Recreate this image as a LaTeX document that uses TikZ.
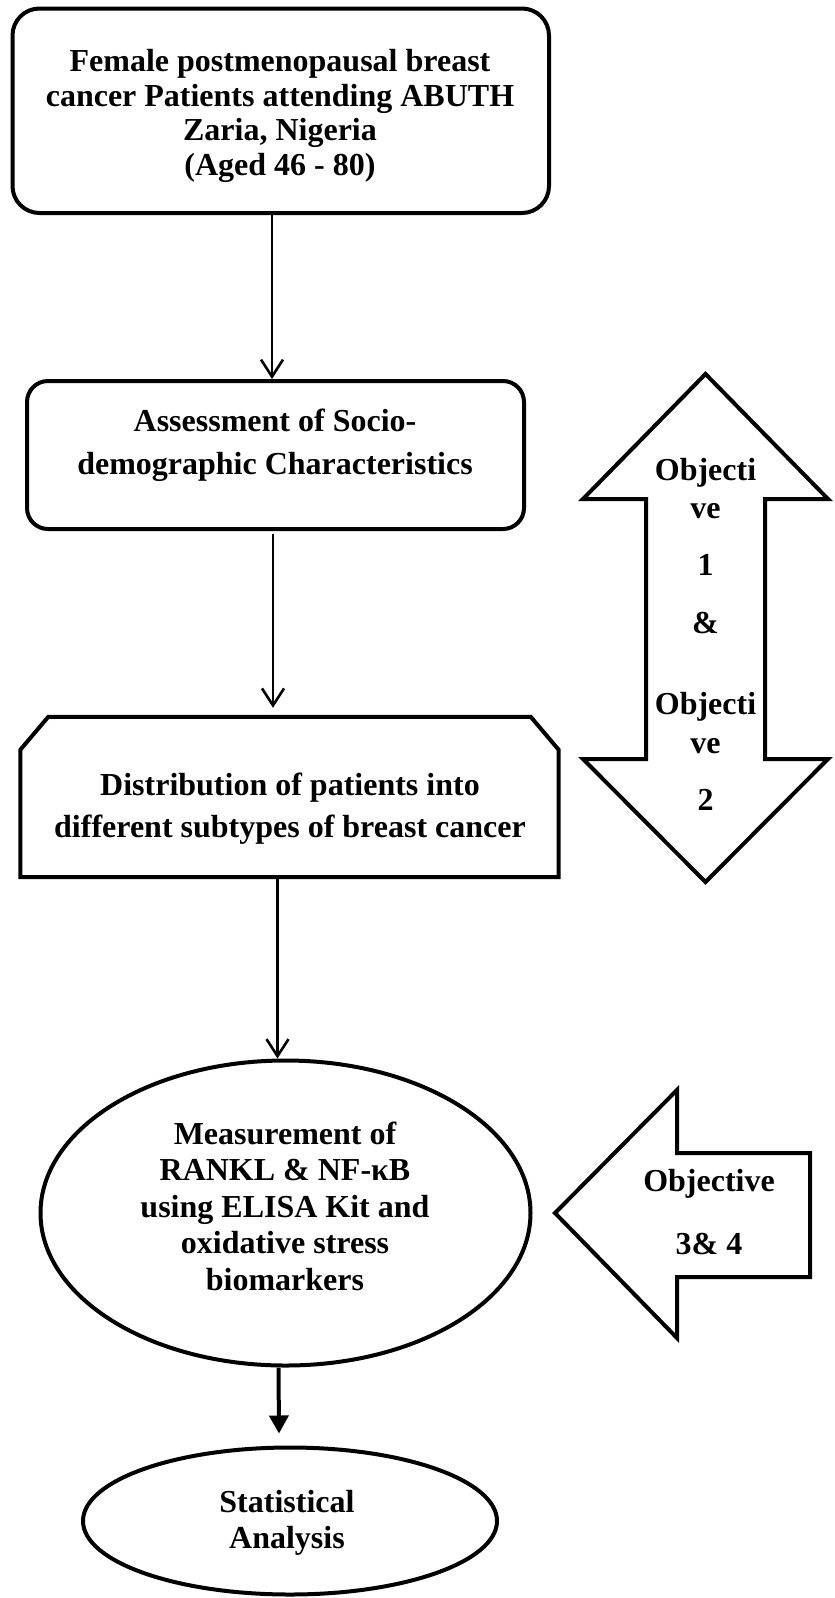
\documentclass[tikz,border=0pt]{standalone}
\usepackage{fontspec}
\setmainfont{Liberation Serif}
\usetikzlibrary{arrows.meta,shapes.geometric}
\begin{document}
\begin{tikzpicture}[x=1pt,y=-1pt,
  boxline/.style={draw, line width=4pt, inner sep=0pt},
  txt/.style={font=\bfseries\fontsize{32}{37}\selectfont, align=center, inner sep=0pt},
  thinarr/.style={line width=2.6pt, -{Straight Barb[length=17pt,width=22pt,line width=2.6pt]}},
  thickarr/.style={line width=4pt, -{Triangle[length=18pt,width=19pt]}},
  bigarrow/.style={draw, line width=4pt, miter limit=20}
]
\useasboundingbox (0,0) rectangle (835,1598);

% shapes
\node[boxline, rounded corners=27pt, minimum width=536.5pt, minimum height=204.5pt] (b1) at (280.75,110.75) {};
\node[boxline, rounded corners=21pt, minimum width=497pt, minimum height=148pt] (b2) at (275.5,455) {};
\node[inner sep=0pt, minimum width=538pt, minimum height=160pt] (b3) at (289.5,797) {};
\draw[line width=4pt] ([xshift=28pt]b3.north west) -- ([xshift=-28pt]b3.north east)
  -- ([yshift=-33pt]b3.north east) -- (b3.south east) -- (b3.south west)
  -- ([yshift=-33pt]b3.north west) -- cycle;
\node[boxline, ellipse, minimum width=490pt, minimum height=305pt] (e1) at (285.5,1213) {};
\node[boxline, ellipse, minimum width=414pt, minimum height=147pt] (e2) at (290,1521) {};

% texts
\node[txt, font=\bfseries\fontsize{32}{34.5}\selectfont] (t1) at (280,116)
  {Female postmenopausal breast\\cancer Patients attending ABUTH\\Zaria, Nigeria\\(Aged 46 - 80)};
\node[txt, font=\bfseries\fontsize{32}{43}\selectfont] (t2) at (275,445)
  {Assessment of Socio-\\demographic Characteristics};
\node[txt, font=\bfseries\fontsize{32}{42}\selectfont] (t3) at (290,809)
  {Distribution of patients into\\different subtypes of breast cancer};
\node[txt, font=\bfseries\fontsize{32}{36.5}\selectfont] (t4) at (285,1206)
  {Measurement of\\RANKL \& NF-κB\\using ELISA Kit and\\oxidative stress\\biomarkers};
\node[txt, font=\bfseries\fontsize{32}{36}\selectfont] (t5) at (287,1523)
  {Statistical\\Analysis};

% double arrow (objectives 1 & 2)
\draw[bigarrow] (705.5,374) -- (828,499) -- (765,499) -- (765,759) -- (828,759)
  -- (705.5,882) -- (583,759) -- (646,759) -- (646,499) -- (583,499) -- cycle;
\node[txt, font=\bfseries\fontsize{32}{38.5}\selectfont] (t6) at (705.5,634)
  {Objecti\\ve\\[18.5pt]1\\[19.5pt]\&\\[42.5pt]Objecti\\ve\\[18.5pt]2};

% left arrow (objectives 3 & 4)
\draw[bigarrow] (555,1213) -- (677,1090) -- (677,1153) -- (810,1153) -- (810,1277)
  -- (677,1277) -- (677,1338) -- cycle;
\node[txt, font=\bfseries\fontsize{32}{36}\selectfont] (t7) at (709,1212)
  {Objective\\[27pt]3\& 4};

% connectors
\draw[thinarr] ([xshift=-8.75pt]b1.south) -- ([xshift=-3.5pt]b2.north);
\draw[thinarr] ([xshift=-2.5pt,yshift=-3pt]b2.south) -- ([xshift=-16.5pt,yshift=9pt]b3.north);
\draw[thinarr] ([xshift=-12pt]b3.south) -- ([xshift=-8pt]e1.north);
\draw[thickarr] ([xshift=-7pt]e1.south) -- ([xshift=-11pt,yshift=12pt]e2.north);
\end{tikzpicture}
\end{document}
